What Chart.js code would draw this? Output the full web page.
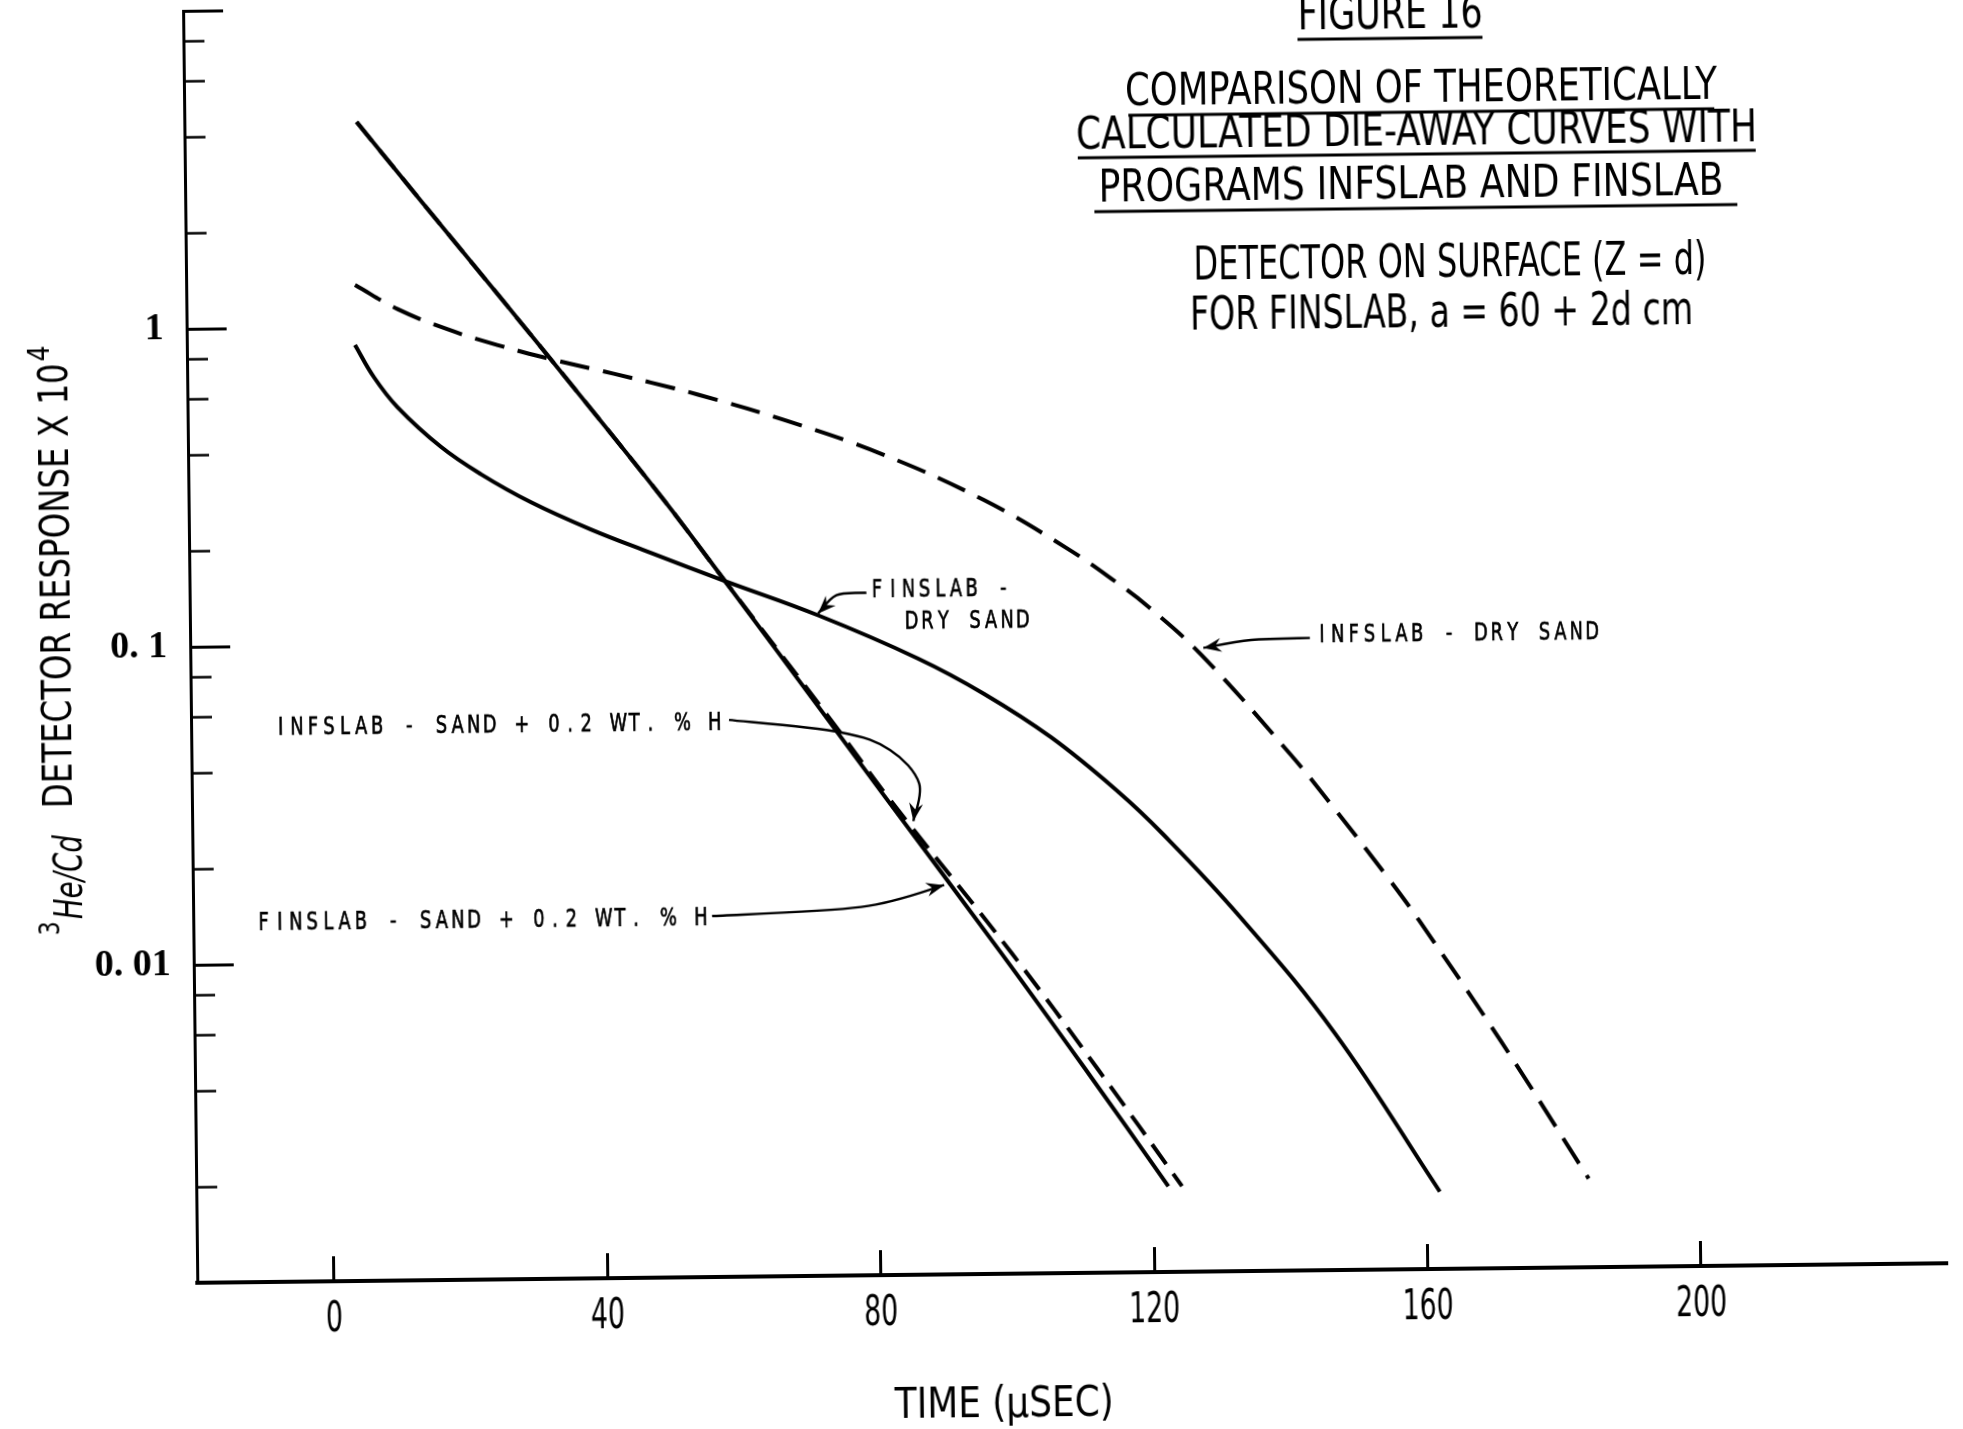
<!DOCTYPE html>
<html>
<head>
<meta charset="utf-8">
<script src="https://cdn.jsdelivr.net/npm/chart.js@4.4.1/dist/chart.umd.min.js"></script>
<style>
  html, body { margin: 0; padding: 0; background: #fff; overflow: hidden; }
  /* the scanned sheet sits a little crooked */
  #fig { display: block; transform: rotate(-0.64deg); transform-origin: 981px 714px; }
</style>
</head>
<body>
<canvas id="fig" width="1963" height="1429"></canvas>
<script>
// axis ticks
const timeTicks = [0, 40, 80, 120, 160, 200];
const respMajor = [0.01, 0.1, 1, 10];
const respMajorLabels = ['0. 01', '0. 1', '1', ''];
const respMinor = [0.002, 0.004, 0.006, 0.008, 0.02, 0.04, 0.06, 0.08, 0.2, 0.4, 0.6, 0.8, 2, 4, 6, 8];

// FINSLAB - sand + 0.2 wt.% H (solid)
const finWetT = [5.2, 14.4, 26.4, 37.5, 49.5, 58.1, 73.8, 81.3, 98.2, 110.1, 122.2];
const finWetR = [4.41, 2.492, 1.189, 0.596, 0.279, 0.1567, 0.0537, 0.0321, 0.01016, 0.00442, 0.00186];

// INFSLAB - sand + 0.2 wt.% H (dashed)
const infWetT = [5.2, 14.4, 26.4, 37.5, 49.5, 58.1, 74.2, 81.7, 99.7, 111.9, 124.2];
const infWetR = [4.41, 2.492, 1.189, 0.596, 0.279, 0.1567, 0.0537, 0.0321, 0.01016, 0.00442, 0.00186];

// FINSLAB - dry sand (solid)
const finDryT = [4.6, 7.3, 10.7, 17.0, 22.8, 30.1, 38.8, 47.6, 58.1, 71.9, 86.4, 96.0, 105.8, 115.5, 122.0, 133.0, 146.8, 161.9];
const finDryR = [0.878, 0.695, 0.558, 0.417, 0.341, 0.277, 0.2265, 0.190, 0.1549, 0.1194, 0.0867, 0.0668, 0.0484, 0.0325, 0.0238, 0.0131, 0.00556, 0.00175];

// INFSLAB - dry sand (dashed)
const infDryT = [4.7, 10.9, 18.2, 25.4, 32.2, 42.4, 47.8, 54.7, 67.2, 81.7, 96.4, 108.6, 115.6, 120.2, 127.9, 140.6, 146.6, 154.7, 159.3, 171.2, 183.7];
const infDryR = [1.355, 1.134, 0.975, 0.868, 0.790, 0.698, 0.653, 0.596, 0.493, 0.380, 0.271, 0.189, 0.148, 0.1238, 0.0869, 0.0424, 0.0292, 0.0172, 0.0125, 0.00513, 0.0019];

const NARROW = "'Liberation Sans Narrow', 'DejaVu Sans Condensed', 'Liberation Sans', sans-serif";
const LETTER = "'DejaVu Sans', 'Liberation Sans', sans-serif";

// curve labels with leader arrows, anchored in data units
const callouts = [
  { lines: [{ text: 'FINSLAB -', at: [79.4, 0.1355], pitch: 15.8 },
            { text: 'DRY SAND', at: [84.4, 0.1075], pitch: 15.9 }],
    arrow: [[79.0, 0.140], [74.6, 0.138], [71.9, 0.121]] },
  { lines: [{ text: 'INFSLAB - DRY SAND', at: [144.4, 0.0947], pitch: 15.9 }],
    arrow: [[143.8, 0.0974], [135.2, 0.0964], [128.2, 0.0914]] },
  { lines: [{ text: 'INFSLAB - SAND + 0.2 WT. % H', at: [-8.05, 0.0525], pitch: 16.07 }],
    arrow: [[58.7, 0.0564], [74.8, 0.0512], [82.2, 0.0448], [86.4, 0.0351], [85.5, 0.0267]] },
  { lines: [{ text: 'FINSLAB - SAND + 0.2 WT. % H', at: [-10.9, 0.01276], pitch: 16.2 }],
    arrow: [[55.9, 0.01365], [77.7, 0.0144], [89.9, 0.01676]] }
];

const titleLines = [
  { text: 'FIGURE 16', cx: 1398, base: 33, w: 185, size: 46, under: [1305, 1490, 43] },
  { text: 'COMPARISON OF THEORETICALLY', cx: 1428, base: 107, w: 592, size: 44, under: [1135, 1721, 117] },
  { text: 'CALCULATED DIE-AWAY CURVES WITH', cx: 1423, base: 150, w: 681, size: 44, under: [1084, 1762, 159] },
  { text: 'PROGRAMS INFSLAB AND FINSLAB', cx: 1417, base: 203, w: 625, size: 44, under: [1100, 1743, 213] },
  { text: 'DETECTOR ON SURFACE (Z = d)', cx: 1455, base: 282, w: 513, size: 46 },
  { text: 'FOR FINSLAB, a = 60 + 2d cm', cx: 1446, base: 332, w: 503, size: 46 }
];

function fitText(ctx, text, x, y, width, size, family, style) {
  ctx.font = (style || '') + ' ' + size + 'px ' + family;
  const w = ctx.measureText(text).width;
  ctx.save();
  ctx.translate(x, y);
  ctx.scale(width / w, 1);
  ctx.textAlign = 'left';
  ctx.textBaseline = 'alphabetic';
  ctx.fillText(text, 0, 0);
  ctx.restore();
}

// lettering-guide style: one glyph per fixed cell
function letterText(ctx, text, x, y, pitch, size) {
  ctx.font = size + 'px ' + LETTER;
  ctx.textAlign = 'center';
  ctx.textBaseline = 'alphabetic';
  ctx.lineWidth = 0.7;
  [...text].forEach((ch, i) => {
    ctx.save();
    ctx.translate(x + pitch * (i + 0.5), y);
    ctx.scale(0.74, 1);
    ctx.fillText(ch, 0, 0);
    ctx.strokeText(ch, 0, 0);
    ctx.restore();
  });
}

function smoothPath(ctx, p) {
  ctx.beginPath();
  ctx.moveTo(p[0][0], p[0][1]);
  for (let i = 0; i < p.length - 1; i++) {
    const a = p[Math.max(i - 1, 0)], b = p[i], c = p[i + 1], d = p[Math.min(i + 2, p.length - 1)];
    ctx.bezierCurveTo(b[0] + (c[0] - a[0]) / 6, b[1] + (c[1] - a[1]) / 6,
                      c[0] - (d[0] - b[0]) / 6, c[1] - (d[1] - b[1]) / 6, c[0], c[1]);
  }
  ctx.stroke();
}

function arrowHead(ctx, from, tip) {
  const ang = Math.atan2(tip[1] - from[1], tip[0] - from[0]);
  ctx.save();
  ctx.translate(tip[0], tip[1]);
  ctx.rotate(ang);
  ctx.beginPath();
  ctx.moveTo(0, 0);
  ctx.lineTo(-18, -7);
  ctx.lineTo(-12, 0);
  ctx.lineTo(-18, 7);
  ctx.closePath();
  ctx.fill();
  ctx.restore();
}

const figureText = {
  id: 'figureText',
  afterDraw(chart) {
    const ctx = chart.ctx;
    const sx = chart.scales.x, sy = chart.scales.y;
    const px = p => [sx.getPixelForValue(p[0]), sy.getPixelForValue(p[1])];
    ctx.save();
    ctx.fillStyle = '#000';
    ctx.strokeStyle = '#000';

    // time tick labels in the narrow hand lettering
    sx.ticks.forEach(t => {
      const s = String(t.value);
      const w = 17 * s.length;
      fitText(ctx, s, sx.getPixelForValue(t.value) - w / 2, 1324, w, 43, NARROW);
    });

    // heading block
    titleLines.forEach(t => {
      fitText(ctx, t.text, t.cx - t.w / 2, t.base, t.w, t.size, NARROW);
      if (t.under) {
        ctx.lineWidth = 3;
        ctx.beginPath();
        ctx.moveTo(t.under[0], t.under[2]);
        ctx.lineTo(t.under[1], t.under[2]);
        ctx.stroke();
      }
    });

    // curve callouts
    callouts.forEach(c => {
      c.lines.forEach(l => {
        const p = px(l.at);
        letterText(ctx, l.text, p[0], p[1], l.pitch, 24);
      });
      const pts = c.arrow.map(px);
      ctx.lineWidth = 2.4;
      smoothPath(ctx, pts);
      arrowHead(ctx, pts[pts.length - 2], pts[pts.length - 1]);
    });

    // x axis title
    fitText(ctx, 'TIME (\u03BCSEC)', 887, 1417, 219, 42, NARROW);

    // y axis title, read bottom to top
    ctx.save();
    ctx.translate(71, 925);
    ctx.rotate(-Math.PI / 2);
    fitText(ctx, '3', 0, -14, 14, 28, NARROW);
    fitText(ctx, 'He/Cd', 16, 9, 84, 39, NARROW, 'italic');
    fitText(ctx, 'DETECTOR RESPONSE X 10', 127, 0, 445, 41, NARROW);
    fitText(ctx, '4', 574, -18, 16, 31, NARROW);
    ctx.restore();

    ctx.restore();
  }
};

const pts = (t, r) => t.map((x, i) => ({ x: x, y: r[i] }));
const line = (data, dash) => ({
  data: data,
  borderColor: '#000',
  borderWidth: 4,
  borderDash: dash,
  borderCapStyle: 'butt',
  pointRadius: 0,
  fill: false,
  tension: 0.4
});

new Chart(document.getElementById('fig'), {
  type: 'line',
  data: {
    datasets: [
      line(pts(finWetT, finWetR), []),
      line(pts(infWetT, infWetR), [24, 12]),
      line(pts(finDryT, finDryR), []),
      line(pts(infDryT, infDryR), [30, 14])
    ]
  },
  options: {
    responsive: false,
    devicePixelRatio: 1,
    animation: false,
    events: [],
    layout: { padding: { top: 2, right: 22, bottom: 0, left: 0 } },
    plugins: { legend: { display: false }, tooltip: { enabled: false } },
    scales: {
      x: {
        type: 'linear',
        position: 'bottom',
        min: -20,
        max: 236,
        border: { display: true, color: '#000', width: 4 },
        grid: { drawOnChartArea: false, drawTicks: true, tickLength: -25, tickWidth: 3, tickColor: '#000' },
        ticks: { display: false, autoSkip: false },
        afterBuildTicks: s => { s.ticks = timeTicks.map(v => ({ value: v })); },
        afterFit: s => { s.height = 155; s.paddingLeft = 0; s.paddingRight = 0; }
      },
      y: {
        type: 'logarithmic',
        position: 'left',
        weight: 1,
        min: 0.001,
        max: 10,
        border: { display: true, color: '#000', width: 3 },
        grid: { drawOnChartArea: false, drawTicks: true, tickLength: -40, tickWidth: 3, tickColor: '#000' },
        ticks: {
          autoSkip: false,
          color: '#000',
          padding: 63,
          font: { family: "'Liberation Serif', 'DejaVu Serif', serif", size: 38, weight: 'bold' },
          callback: v => respMajorLabels[respMajor.indexOf(v)]
        },
        afterBuildTicks: s => { s.ticks = respMajor.map(v => ({ value: v })); },
        afterFit: s => { s.width = 191; s.paddingTop = 0; s.paddingBottom = 0; }
      },
      yMinor: {
        type: 'logarithmic',
        position: 'left',
        weight: 0,
        min: 0.001,
        max: 10,
        border: { display: false },
        grid: { drawOnChartArea: false, drawTicks: true, tickLength: -21, tickWidth: 2.5, tickColor: '#000' },
        ticks: { display: false, autoSkip: false },
        afterBuildTicks: s => { s.ticks = respMinor.map(v => ({ value: v })); },
        afterFit: s => { s.width = 0; s.paddingTop = 0; s.paddingBottom = 0; }
      }
    }
  },
  plugins: [figureText]
});
</script>
</body>
</html>
